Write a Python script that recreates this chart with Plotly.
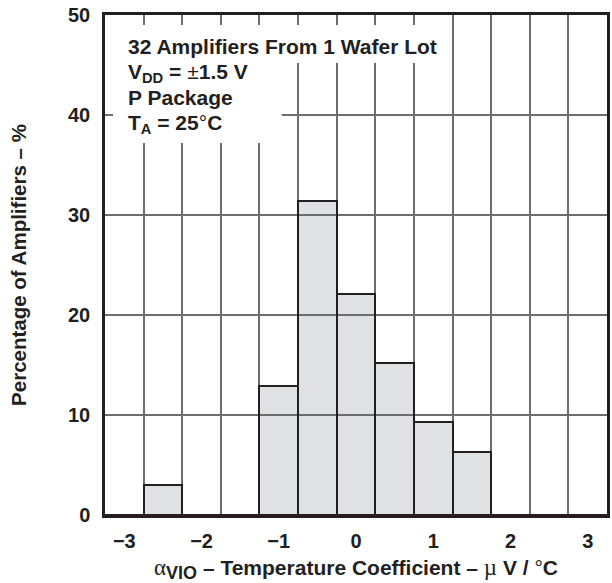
import plotly.graph_objects as go

# Histogram bins: temperature coefficient of input offset voltage (µV/°C)
bin_centers = [-3.0, -2.5, -2.0, -1.5, -1.0, -0.5, 0.0, 0.5, 1.0, 1.5, 2.0, 2.5, 3.0]
pct_amplifiers = [0, 3.0, 0, 0, 12.9, 31.4, 22.1, 15.2, 9.3, 6.3, 0, 0, 0]
bin_width = 0.5

x_ticks = [-3, -2, -1, 0, 1, 2, 3]
y_ticks = [0, 10, 20, 30, 40, 50]

note_lines = [
    "32 Amplifiers From 1 Wafer Lot",
    "V<sub>DD</sub> = <span style=\"font-weight:normal\">±</span>1.5 V",
    "P Package",
    "T<sub>A</sub> = 25<span style=\"font-weight:normal\">°</span>C",
]

FONT = "Liberation Sans, Arial, Helvetica, sans-serif"
INK = "#231f20"
GRID = "#6e6e6e"

fig = go.Figure()

# Translucent fill so the grid shows through the bars; solid black outline on top
fig.add_trace(go.Bar(
    x=bin_centers,
    y=pct_amplifiers,
    width=bin_width,
    marker=dict(color="rgba(100,105,115,0.2)", line=dict(color=INK, width=2)),
    hoverinfo="skip",
))

fig.update_layout(
    width=612, height=583,
    margin=dict(l=105, r=2, t=15, b=68),
    paper_bgcolor="white", plot_bgcolor="white",
    showlegend=False,
    bargap=0,
    font=dict(family=FONT, size=20, color=INK, weight="bold"),
)

serif = "<span style=\"font-family:'Liberation Serif';font-weight:normal;font-size:23px\">"
fig.update_xaxes(
    range=[-3.25, 3.25],
    tickvals=x_ticks,
    ticks="", ticklabelstandoff=6,
    tickfont=dict(family=FONT, size=20, color=INK, weight="bold"),
    showgrid=False, zeroline=False,
    minor=dict(tick0=0.25, dtick=0.5, showgrid=True, gridcolor=GRID, gridwidth=1.5, ticks=""),
    showline=True, mirror=True, linecolor=INK, linewidth=2.5,
    title=dict(
        text=f"{serif}α</span>"
             "<sub><span style=\"font-size:18px\">VIO</span></sub> – Temperature Coefficient – "
             f"{serif}µ</span>"
             " V / <span style=\"font-weight:normal\">°</span>C",
        font=dict(family=FONT, size=21, color=INK, weight="bold"),
        standoff=11,
    ),
)

fig.update_yaxes(
    range=[0, 50],
    tickvals=y_ticks,
    ticks="", ticklabelstandoff=8,
    tickfont=dict(family=FONT, size=20, color=INK, weight="bold"),
    showgrid=True, gridcolor=GRID, gridwidth=1.5, zeroline=False,
    showline=True, mirror=True, linecolor=INK, linewidth=2.5,
    title=dict(
        text="Percentage of Amplifiers – %",
        font=dict(family=FONT, size=20.5, color=INK, weight="bold"),
        standoff=36,
    ),
)

# White panel behind the condition notes (masks the grid)
fig.add_shape(type="rect", xref="paper", yref="paper",
              x0=0.016, x1=0.679, y0=0.904, y1=0.98,
              fillcolor="white", line=dict(width=0), layer="above")
fig.add_shape(type="rect", xref="paper", yref="paper",
              x0=0.016, x1=0.352, y0=0.744, y1=0.98,
              fillcolor="white", line=dict(width=0), layer="above")

note_tops = [0.964, 0.913, 0.863, 0.813]
for line, top in zip(note_lines, note_tops):
    fig.add_annotation(
        text=line, xref="paper", yref="paper",
        x=0.042, y=top, xanchor="left", yanchor="top",
        align="left", showarrow=False,
        font=dict(family=FONT, size=21, color=INK, weight="bold"),
    )

fig.write_html("out.html")
